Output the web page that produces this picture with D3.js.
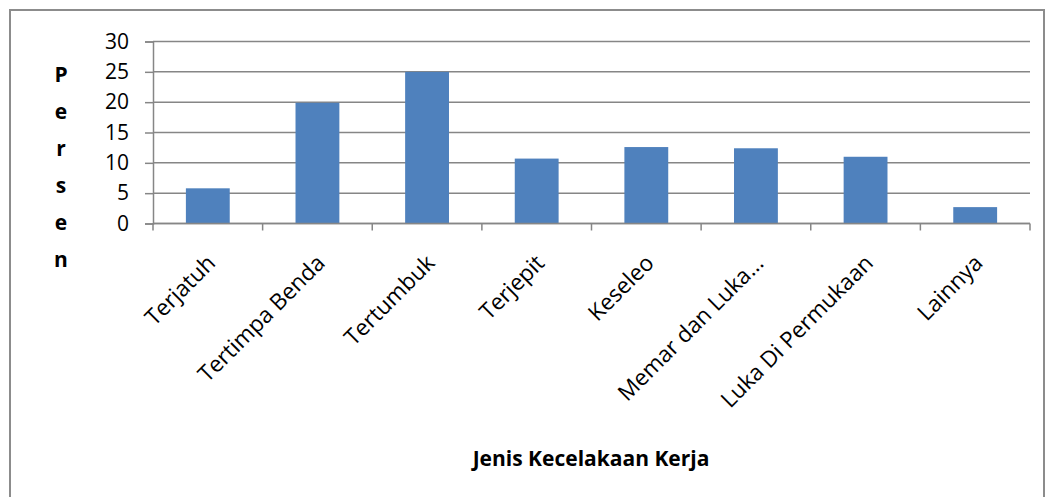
<!DOCTYPE html>
<html>
<head>
<meta charset="utf-8">
<script src="https://cdn.jsdelivr.net/npm/d3@7"></script>
<style>
  body { margin: 0; background: #fff; }
  .chart { width: 1050px; height: 497px; }
  text { font-family: "Open Sans", "Liberation Sans", Arial, sans-serif; fill: #000; }
</style>
</head>
<body>
<div class="chart"></div>
<script>
// data
let categories = ["Terjatuh", "Tertimpa Benda", "Tertumbuk", "Terjepit", "Keseleo", "Memar dan Luka...", "Luka Di Permukaan", "Lainnya"];
let values = [5.8, 19.9, 25.0, 10.7, 12.6, 12.4, 11.0, 2.7];
let yTicks = [0, 5, 10, 15, 20, 25, 30];
let yTitle = ["P", "e", "r", "s", "e", "n"];
let xTitle = "Jenis Kecelakaan Kerja";

let chart = {};

chart.margin = { top: 41.5, right: 20, bottom: 273.5, left: 153 };
chart.width = 1050 - chart.margin.left - chart.margin.right;
chart.height = 497 - chart.margin.top - chart.margin.bottom;

chart.svg = d3.select(".chart").append("svg")
    .attr("width", 1050)
    .attr("height", 497);

// outer border (bottom edge falls outside the picture)
chart.svg.append("rect")
    .attr("x", 10).attr("y", 10)
    .attr("width", 1034).attr("height", 500)
    .attr("fill", "none")
    .attr("stroke", "#8c8c8c")
    .attr("stroke-width", 2);

chart.plot = chart.svg.append("g")
    .attr("transform", `translate(${chart.margin.left},${chart.margin.top})`);

chart.x = d3.scaleBand()
    .domain(categories)
    .range([0, chart.width])
    .paddingInner(0.6)
    .paddingOuter(0.3);

chart.y = d3.scaleLinear()
    .domain([0, 30])
    .range([chart.height, 0]);

// gridlines
chart.plot.selectAll("line.grid")
    .data(yTicks)
    .enter().append("line")
    .attr("class", "grid")
    .attr("x1", 0).attr("x2", chart.width)
    .attr("y1", d => chart.y(d)).attr("y2", d => chart.y(d))
    .attr("stroke", "#868686")
    .attr("stroke-width", 1.5);

// y axis
let yAxis = chart.plot.append("g")
    .call(d3.axisLeft(chart.y).tickValues(yTicks).tickSize(8).tickPadding(16));
yAxis.select(".domain").attr("stroke", "#868686").attr("stroke-width", 1.5);
yAxis.selectAll(".tick line").attr("stroke", "#868686").attr("stroke-width", 1.5);
yAxis.selectAll(".tick text")
    .attr("font-size", 21)
    .attr("font-family", "Liberation Sans, Arial, sans-serif")
    .attr("fill", "#000");

// bars
chart.plot.selectAll("rect.bar")
    .data(values)
    .enter().append("rect")
    .attr("class", "bar")
    .attr("x", (d, i) => chart.x(categories[i]))
    .attr("y", d => chart.y(d))
    .attr("width", chart.x.bandwidth())
    .attr("height", d => chart.height - chart.y(d))
    .attr("fill", "#4f81bd");

// x axis line + category boundary ticks
let bounds = d3.range(categories.length + 1);
chart.plot.append("line")
    .attr("x1", 0).attr("x2", chart.width)
    .attr("y1", chart.height).attr("y2", chart.height)
    .attr("stroke", "#868686").attr("stroke-width", 1.5);
chart.plot.selectAll("line.xtick")
    .data(bounds)
    .enter().append("line")
    .attr("class", "xtick")
    .attr("x1", d => d * chart.width / categories.length)
    .attr("x2", d => d * chart.width / categories.length)
    .attr("y1", chart.height).attr("y2", chart.height + 7)
    .attr("stroke", "#868686").attr("stroke-width", 1.5);

// rotated category labels
chart.plot.selectAll("text.xlab")
    .data(categories)
    .enter().append("text")
    .attr("class", "xlab")
    .attr("text-anchor", "end")
    .attr("font-size", 22.5)
    .attr("transform", d => {
        let cx = chart.x(d) + chart.x.bandwidth() / 2 + 9;
        return `translate(${cx},${chart.height + 41}) rotate(-45)`;
    })
    .text(d => d);

// y title, stacked letters
chart.svg.selectAll("text.ytitle")
    .data(yTitle)
    .enter().append("text")
    .attr("class", "ytitle")
    .attr("x", 61)
    .attr("y", (d, i) => 82 + i * 37)
    .attr("text-anchor", "middle")
    .attr("font-size", 21)
    .attr("font-weight", "bold")
    .text(d => d);

// x title
chart.svg.append("text")
    .attr("x", 591)
    .attr("y", 466)
    .attr("text-anchor", "middle")
    .attr("font-size", 21)
    .attr("font-weight", "bold")
    .text(xTitle);
</script>
</body>
</html>
